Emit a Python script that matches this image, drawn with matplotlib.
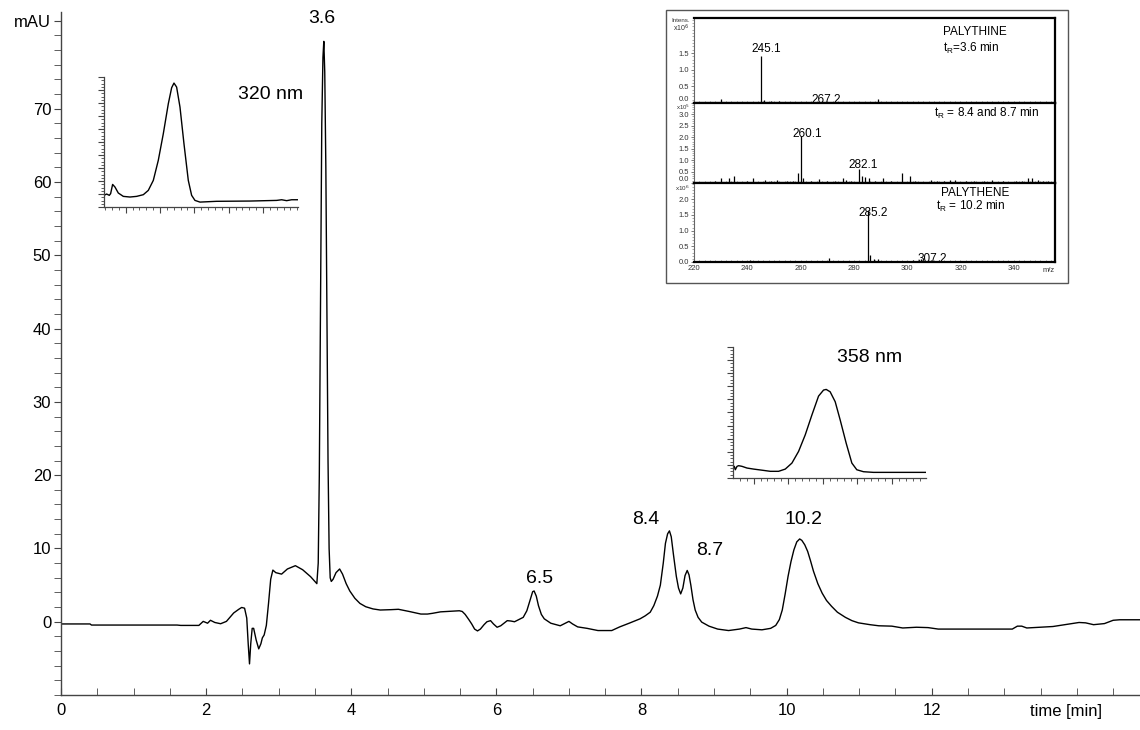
import matplotlib
matplotlib.use('Agg')
import matplotlib.pyplot as plt
from matplotlib.patches import Rectangle
from matplotlib.transforms import blended_transform_factory
from matplotlib.ticker import MultipleLocator

plt.rcParams['font.family'] = ['Liberation Sans', 'DejaVu Sans']

# main chromatogram (time in min, absorbance in mAU)
time_min = [0, 0.4, 0.42, 1.6, 1.65, 1.9, 1.96, 2.02, 2.06, 2.12, 2.2, 2.28, 2.38, 2.45, 2.49,
            2.53, 2.56, 2.58, 2.598, 2.615, 2.635, 2.655, 2.69, 2.725, 2.755, 2.775, 2.8, 2.83,
            2.86, 2.89, 2.92, 2.96, 3.04, 3.12, 3.23, 3.33, 3.44, 3.49, 3.526, 3.545, 3.56,
            3.575, 3.594, 3.61, 3.622, 3.635, 3.65, 3.665, 3.68, 3.695, 3.71, 3.725, 3.75, 3.79,
            3.84, 3.88, 3.93, 3.98, 4.05, 4.12, 4.2, 4.3, 4.4, 4.55, 4.65, 4.8, 4.96, 5.05, 5.12,
            5.23, 5.49, 5.53, 5.57, 5.62, 5.66, 5.7, 5.74, 5.78, 5.83, 5.87, 5.92, 5.96, 6.01,
            6.06, 6.15, 6.2, 6.25, 6.32, 6.37, 6.42, 6.46, 6.5, 6.52, 6.55, 6.58, 6.62, 6.66,
            6.75, 6.88, 6.95, 7.0, 7.05, 7.12, 7.25, 7.4, 7.59, 7.7, 7.83, 7.98, 8.05, 8.12,
            8.17, 8.22, 8.26, 8.3, 8.33, 8.36, 8.385, 8.41, 8.44, 8.48, 8.51, 8.54, 8.57, 8.6,
            8.63, 8.655, 8.68, 8.71, 8.74, 8.78, 8.83, 8.93, 9.05, 9.2, 9.35, 9.44, 9.52, 9.66,
            9.78, 9.85, 9.9, 9.94, 9.98, 10.02, 10.06, 10.1, 10.14, 10.18, 10.21, 10.25, 10.29,
            10.33, 10.37, 10.43, 10.49, 10.55, 10.62, 10.7, 10.81, 10.9, 10.99, 11.15, 11.27,
            11.45, 11.6, 11.79, 11.95, 12.09, 12.6, 13.11, 13.18, 13.24, 13.31, 13.67, 13.9,
            14.03, 14.12, 14.23, 14.38, 14.5, 14.59, 14.87]
mau = [-0.3, -0.3, -0.45, -0.45, -0.5, -0.5, 0.05, -0.2, 0.2, -0.1, -0.27, 0.05, 1.2, 1.7, 1.95,
       1.85, 0.5, -3.0, -5.75, -3.0, -0.9, -0.9, -2.5, -3.7, -3.0, -2.2, -1.8, -0.5,
       2.5, 5.8, 7.05, 6.7, 6.5, 7.2, 7.65, 7.1, 6.15, 5.6, 5.2, 8.0, 20.0,
       42.0, 68.0, 77.0, 79.2, 75.0, 62.0, 42.0, 22.0, 10.0, 6.0, 5.5, 5.8, 6.7,
       7.2, 6.5, 5.2, 4.2, 3.2, 2.5, 2.05, 1.75, 1.6, 1.65, 1.7, 1.4, 1.05, 1.05, 1.15,
       1.35, 1.5, 1.4, 1.0, 0.3, -0.3, -1.0, -1.25, -1.0, -0.4, 0.0, 0.15, -0.3, -0.75,
       -0.55, 0.15, 0.1, 0.0, 0.35, 0.6, 1.5, 2.8, 4.1, 4.2, 3.5, 2.2, 1.0, 0.4,
       -0.2, -0.55, -0.2, 0.05, -0.3, -0.7, -0.9, -1.2, -1.2, -0.7, -0.2, 0.4, 0.8, 1.3,
       2.2, 3.5, 5.0, 8.0, 10.7, 12.0, 12.4, 11.6, 9.2, 6.2, 4.6, 3.8, 4.6, 6.3,
       7.0, 6.4, 5.0, 3.0, 1.6, 0.6, -0.05, -0.6, -1.0, -1.2, -1.0, -0.8, -1.0, -1.1,
       -0.9, -0.5, 0.3, 1.6, 3.8, 6.2, 8.2, 9.8, 10.9, 11.3, 11.1, 10.5, 9.6,
       8.3, 6.9, 5.2, 3.9, 2.9, 2.1, 1.3, 0.6, 0.15, -0.15, -0.4, -0.55,
       -0.6, -0.85, -0.75, -0.8, -1.0, -1.0, -1.0, -0.6, -0.6, -0.85, -0.65, -0.3,
       -0.1, -0.15, -0.4, -0.25, 0.2, 0.27, 0.27]

peak_labels = ['3.6', '6.5', '8.4', '8.7', '10.2']
peak_label_x = [3.6, 6.59, 8.06, 8.94, 10.23]
peak_label_y = [82.3, 5.9, 13.9, 9.7, 13.9]

# UV spectrum insets (arbitrary units)
uv320_x = [-0.631, -0.553, -0.476, -0.437, -0.379, -0.311, -0.214, -0.068, 0.126, 0.32, 0.515,
           0.66, 0.806, 0.951, 1.097, 1.243, 1.34, 1.408, 1.485, 1.583, 1.699, 1.825, 1.922,
           2.019, 2.165, 2.65, 3.621, 4.398, 4.544, 4.689, 4.835, 5.02]
uv320_y = [9, 10, 9, 10.3, 17.4, 15.4, 10.8, 8.2, 7.7, 8.2, 9.5, 12.8, 20.5, 35.9, 56.4, 79.5,
           91.8, 95.4, 92.3, 76.9, 48.7, 20.5, 9, 5.1, 3.8, 4.4, 4.6, 5.1, 5.6, 4.9, 5.6, 5.6]
uv358_x = [-0.596, -0.558, -0.53, -0.48, -0.433, -0.337, -0.192, 0, 0.288, 0.48, 0.72, 0.913,
           1.106, 1.298, 1.49, 1.683, 1.875, 2.019, 2.096, 2.21, 2.356, 2.5, 2.673, 2.837,
           2.98, 3.173, 3.46, 4.04, 4.97]
uv358_y = [6.8, 8.9, 6.3, 8.9, 9.4, 8.9, 7.6, 6.8, 5.8, 5.1, 5.1, 6.8, 11.4, 20.3, 32.9, 48.1,
           62.5, 67.1, 67.6, 65.8, 58.2, 44.3, 26.6, 11.4, 6.3, 4.8, 4.3, 4.3, 4.3]

# mass spectra (m/z, intensity)
ms1_mz = [224, 226, 228, 230, 232, 234, 236, 238, 240, 242, 243.5, 245.1, 246.2, 247.5, 249,
          250.5, 252, 254, 256, 258, 261, 264, 267.2, 270, 273, 276, 279, 282, 285, 287, 289,
          291, 294, 298, 302, 306, 310, 314, 318, 322, 326, 330, 334, 338, 342, 346, 350, 354]
ms1_int = [0.02, 0.03, 0.02, 0.12, 0.02, 0.03, 0.02, 0.03, 0.02, 0.03, 0.02, 1.42, 0.1, 0.03,
           0.05, 0.02, 0.05, 0.02, 0.02, 0.03, 0.02, 0.02, 0.03, 0.02, 0.02, 0.03, 0.02, 0.02,
           0.02, 0.03, 0.13, 0.03, 0.02, 0.02, 0.03, 0.02, 0.02, 0.03, 0.02, 0.02, 0.02, 0.03,
           0.02, 0.02, 0.03, 0.02, 0.02, 0.02]
ms2_mz = [222, 224, 226, 228, 230, 233, 235, 238, 240, 242, 244, 246.5, 249, 251, 253, 255, 257,
          259, 260.1, 261, 264, 267, 270, 273, 276, 277, 279, 282.1, 283, 284, 285.5, 288,
          291, 294, 296, 298, 301, 303, 306, 309, 311, 314, 316, 318, 322, 325, 329, 332,
          336, 339, 341, 343, 345.5, 347, 349, 351, 353]
ms2_int = [0.05, 0.06, 0.05, 0.07, 0.2, 0.2, 0.3, 0.06, 0.07, 0.2, 0.05, 0.15, 0.07, 0.15, 0.06,
           0.1, 0.1, 0.45, 2.06, 0.2, 0.07, 0.18, 0.1, 0.1, 0.22, 0.15, 0.1, 0.6, 0.3, 0.25,
           0.2, 0.1, 0.22, 0.08, 0.06, 0.45, 0.3, 0.08, 0.06, 0.12, 0.1, 0.07, 0.15, 0.12,
           0.08, 0.1, 0.08, 0.12, 0.08, 0.06, 0.1, 0.07, 0.2, 0.22, 0.15, 0.1, 0.1]
ms3_mz = [224, 228, 232, 236, 241, 246, 250, 254, 258, 262, 266, 270.5, 274, 278, 282, 285.2,
          286.2, 287.5, 289, 292, 296, 300, 302, 305, 307.2, 309, 312, 316, 320, 324, 328,
          332, 336, 340, 344, 348, 352]
ms3_int = [0.02, 0.02, 0.03, 0.02, 0.06, 0.02, 0.03, 0.02, 0.03, 0.02, 0.02, 0.12, 0.02, 0.03,
           0.02, 1.65, 0.22, 0.08, 0.1, 0.02, 0.03, 0.02, 0.05, 0.08, 0.04, 0.06, 0.05, 0.03,
           0.02, 0.03, 0.02, 0.02, 0.03, 0.02, 0.02, 0.03, 0.02]

fig = plt.figure(figsize=(11.4, 7.3), dpi=100)

# ---- main chromatogram ----
ax = fig.add_axes([0.0535, 0.0479, 0.9465, 0.9356])
ax.plot(time_min, mau, color='black', lw=1.0)
ax.set_xlim(0, 14.87)
ax.set_ylim(-10, 83.2)
for s in ['top', 'right']:
    ax.spines[s].set_visible(False)
for s in ['left', 'bottom']:
    ax.spines[s].set_color('#444444')
    ax.spines[s].set_linewidth(1.0)
ax.set_xticks(range(0, 13, 2))
ax.xaxis.set_minor_locator(MultipleLocator(0.5))
ax.set_yticks([0, 10, 20, 30, 40, 50, 60, 70, 82])
ax.set_yticklabels(['0', '10', '20', '30', '40', '50', '60', '70', 'mAU'])
ax.yaxis.set_minor_locator(MultipleLocator(2))
ax.tick_params(axis='x', which='both', direction='in', length=5, color='#444444',
               labelsize=12, pad=6)
ax.tick_params(axis='y', which='both', direction='out', length=5, color='#444444',
               labelsize=12, pad=2)
ax.text(13.85, -0.013, 'time [min]', transform=blended_transform_factory(ax.transData, ax.transAxes),
        ha='center', va='top', fontsize=12)
for lab, x, y in zip(peak_labels, peak_label_x, peak_label_y):
    ax.text(x, y, lab, ha='center', va='center', fontsize=14)

# ---- UV insets ----
def uv_inset(rect, xs, ys, xmax):
    a = fig.add_axes(rect)
    a.patch.set_alpha(0)
    a.plot(xs, ys, color='black', lw=1.0)
    a.set_xlim(xs[0], xmax)
    a.set_ylim(0, 100)
    for s in ['top', 'right']:
        a.spines[s].set_visible(False)
    for s in ['left', 'bottom']:
        a.spines[s].set_color('#444444')
        a.spines[s].set_linewidth(0.9)
    a.set_xticks([0, 1, 2, 3, 4])
    a.xaxis.set_minor_locator(MultipleLocator(0.2))
    a.yaxis.set_major_locator(MultipleLocator(10))
    a.yaxis.set_minor_locator(MultipleLocator(2.5))
    a.tick_params(which='major', length=4, width=0.8, color='#444444', labelbottom=False, labelleft=False)
    a.tick_params(which='minor', length=2, width=0.6, color='#444444')
    return a

uv_inset([0.0912, 0.7164, 0.1702, 0.178], uv320_x, uv320_y, 5.02)
uv_inset([0.643, 0.3452, 0.1693, 0.1795], uv358_x, uv358_y, 4.98)
fig.text(0.2377, 0.8699, '320 nm', ha='center', va='center', fontsize=14)
fig.text(0.7632, 0.5096, '358 nm', ha='center', va='center', fontsize=14)

# ---- MS inset ----
fig.patches.append(Rectangle((0.5842, 0.6123), 0.3526, 0.374, transform=fig.transFigure,
                             fill=False, edgecolor='#555555', lw=1.0))

panels = [
    ([0.6088, 0.8589, 0.3167, 0.1164], ms1_mz, ms1_int, 2.55, [0, 0.5, 1.0, 1.5]),
    ([0.6088, 0.7493, 0.3167, 0.1096], ms2_mz, ms2_int, 3.48, [0, 0.5, 1.0, 1.5, 2.0, 2.5, 3.0]),
    ([0.6088, 0.6411, 0.3167, 0.1082], ms3_mz, ms3_int, 2.52, [0, 0.5, 1.0, 1.5, 2.0]),
]
ms_axes = []
for i, (rect, mz, inten, top, yt) in enumerate(panels):
    a = fig.add_axes(rect)
    a.vlines(mz, 0, inten, color='black', lw=0.9)
    a.set_xlim(220, 355.5)
    a.set_ylim(0, top)
    a.set_yticks(yt)
    a.set_yticklabels(['%.1f' % v for v in yt])
    a.yaxis.set_minor_locator(MultipleLocator(0.1))
    a.set_xticks(range(220, 341, 20))
    a.xaxis.set_minor_locator(MultipleLocator(2))
    for s in ['top', 'right', 'bottom']:
        a.spines[s].set_linewidth(1.6)
        a.spines[s].set_color('black')
    a.spines['left'].set_linewidth(0.8)
    a.spines['left'].set_color('#666666')
    a.tick_params(axis='y', which='major', length=2.5, width=0.6, color='#666666',
                  labelsize=5.5, labelcolor='#333333', pad=1)
    a.tick_params(axis='y', which='minor', length=1.2, width=0.5, color='#888888')
    a.tick_params(axis='x', which='both', direction='in', length=1.5, width=0.5,
                  color='#666666', labelbottom=False)
    if i < 2:
        a.get_yticklabels()[0].set_va('bottom')
    ms_axes.append(a)

ms_axes[2].tick_params(axis='x', labelbottom=True, labelsize=5.5, labelcolor='#333333', pad=2)
ms_axes[2].text(353, -0.06, 'm/z', transform=blended_transform_factory(ms_axes[2].transData, ms_axes[2].transAxes),
                ha='center', va='top', fontsize=5.5, color='#333333')
ms_axes[0].text(-0.012, 0.97, 'Intens.', transform=ms_axes[0].transAxes, ha='right', va='center',
                fontsize=4.5, color='#333333')
ms_axes[0].text(-0.012, 0.88, r'x10$^6$', transform=ms_axes[0].transAxes, ha='right', va='center',
                fontsize=5, color='#333333')
ms_axes[1].text(-0.012, 1.0, r'x10$^5$', transform=ms_axes[1].transAxes, ha='right', va='top',
                fontsize=4.3, color='#333333')
ms_axes[2].text(-0.012, 0.995, r'x10$^6$', transform=ms_axes[2].transAxes, ha='right', va='top',
                fontsize=4.5, color='#333333')

# peak annotations in spectra
ms_axes[0].text(247, 1.62, '245.1', ha='center', va='center', fontsize=8.5)
ms_axes[0].text(269.5, 0.08, '267.2', ha='center', va='center', fontsize=8.5)
ms_axes[0].text(313.6, 2.12, 'PALYTHINE', ha='left', va='center', fontsize=8.5)
ms_axes[0].text(313.6, 1.64, r'$\mathregular{t_R}$=3.6 min', ha='left', va='center', fontsize=8.5)
ms_axes[1].text(309.9, 3.04, r'$\mathregular{t_R}$ = 8.4 and 8.7 min', ha='left', va='center', fontsize=8.5)
ms_axes[1].text(262.4, 2.13, '260.1', ha='center', va='center', fontsize=8.5)
ms_axes[1].text(283.6, 0.78, '282.1', ha='center', va='center', fontsize=8.5)
ms_axes[2].text(312.75, 2.21, 'PALYTHENE', ha='left', va='center', fontsize=8.5)
ms_axes[2].text(310.75, 1.76, r'$\mathregular{t_R}$ = 10.2 min', ha='left', va='center', fontsize=8.5)
ms_axes[2].text(287.1, 1.56, '285.2', ha='center', va='center', fontsize=8.5)
ms_axes[2].text(309.25, 0.1, '307.2', ha='center', va='center', fontsize=8.5)

fig.savefig('out.png', dpi=100)
